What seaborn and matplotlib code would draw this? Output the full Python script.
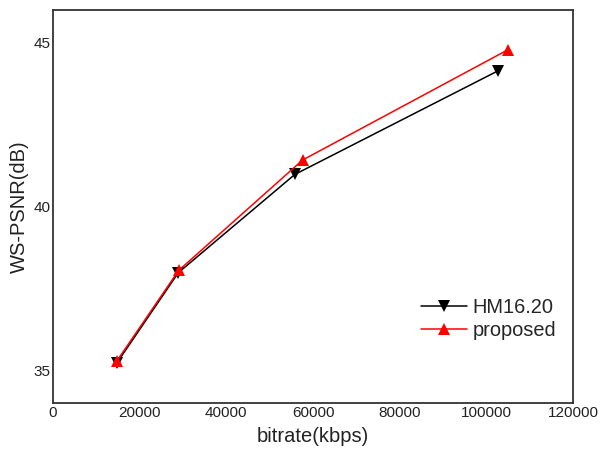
import pandas as pd
import matplotlib.pyplot as plt
import seaborn as sns

# rate-distortion points
bitrate_hm = [14700, 28900, 55800, 102800]
psnr_hm = [35.22, 37.98, 40.98, 44.15]
bitrate_prop = [14800, 29000, 57600, 104900]
psnr_prop = [35.30, 38.05, 41.42, 44.78]
methods = ['HM16.20', 'proposed']

df = pd.DataFrame({
    'bitrate': bitrate_hm + bitrate_prop,
    'psnr': psnr_hm + psnr_prop,
    'method': [methods[0]] * len(bitrate_hm) + [methods[1]] * len(bitrate_prop),
})

sns.set_style('white')
plt.rcParams['font.family'] = ['Liberation Sans', 'DejaVu Sans']

fig = plt.figure(figsize=(6.12, 4.53), dpi=100)
ax = fig.add_axes([0.0866, 0.110, 0.8497, 0.868])

sns.lineplot(data=df, x='bitrate', y='psnr', hue='method', style='method',
             palette={'HM16.20': 'black', 'proposed': 'red'},
             markers={'HM16.20': 'v', 'proposed': '^'}, dashes=False,
             markersize=8.5, markeredgewidth=0, linewidth=1.1, ax=ax)

ax.set_xlim(0, 120000)
ax.set_ylim(34, 46)
ax.set_xticks([0, 20000, 40000, 60000, 80000, 100000, 120000])
ax.set_yticks([35, 40, 45])
ax.tick_params(length=0, labelsize=11, colors='#222222', pad=2)
ax.set_xlabel('bitrate(kbps)', fontsize=14.5, color='#222222', labelpad=5)
ax.set_ylabel('WS-PSNR(dB)', fontsize=14.5, color='#222222', labelpad=3)
for s in ax.spines.values():
    s.set_color('#333333')
    s.set_linewidth(1.3)

ax.legend(loc='upper left', bbox_to_anchor=(0.688, 0.293), frameon=False,
          fontsize=14.4, handlelength=2.3, handletextpad=0.3, labelspacing=0.2,
          borderpad=0)

fig.savefig('out.png', dpi=100)
